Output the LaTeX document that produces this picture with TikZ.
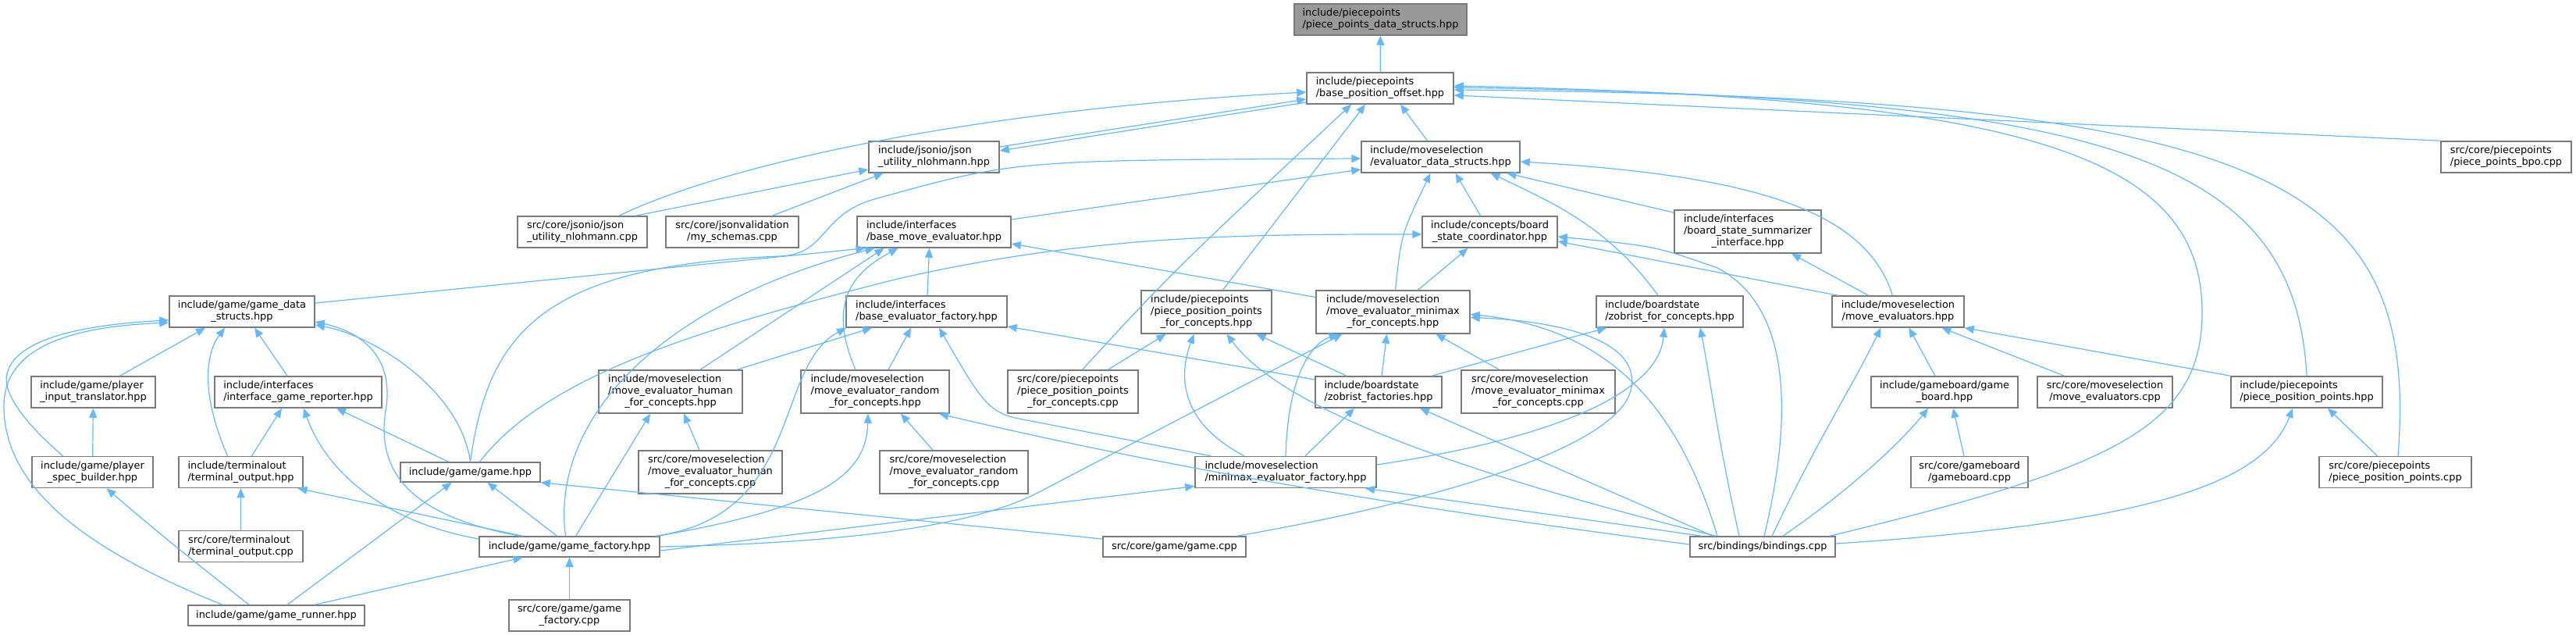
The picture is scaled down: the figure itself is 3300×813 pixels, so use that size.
\documentclass[tikz,border=0pt]{standalone}
\usepackage{fontspec}
\newfontfamily\dejavu{DejaVu Sans}
\usepackage{xcolor}
\usepackage{tikz}
\usetikzlibrary{arrows.meta}
\definecolor{EdgeBlue}{HTML}{63B8FF}
\definecolor{BoxGrey}{HTML}{7A7A7A}
\definecolor{RootGrey}{HTML}{999999}
\newcommand{\flab}[2]{\begin{tabular}{@{}l@{}}#1\\\multicolumn{1}{@{}c@{}}{#2}\end{tabular}}

\begin{document}
\begin{tikzpicture}[
  x=1pt,y=-1pt,
  srcfile/.style={draw=BoxGrey,line width=1.5pt,fill=white,inner sep=0pt,font=\dejavu\fontsize{12.9}{15}\selectfont},
  rootfile/.style={srcfile,fill=RootGrey},
  incl/.style={draw=EdgeBlue,line width=1.2pt,-{Triangle[length=12pt,width=10pt]}}
]
\useasboundingbox (0,0) rectangle (3300,813);

\node[rootfile,minimum width=221,minimum height=40] (root) at (1768.5,25) {\flab{include/piecepoints}{/piece\_points\_data\_structs.hpp}};
\node[srcfile,minimum width=188,minimum height=40] (bpo) at (1768,113) {\flab{include/piecepoints}{/base\_position\_offset.hpp}};
\node[srcfile,minimum width=167,minimum height=40] (json_hpp) at (1196.5,201) {\flab{include/jsonio/json}{\_utility\_nlohmann.hpp}};
\node[srcfile,minimum width=203,minimum height=40] (eds) at (1845.5,201) {\flab{include/moveselection}{/evaluator\_data\_structs.hpp}};
\node[srcfile,minimum width=167,minimum height=40] (bpo_cpp) at (3210.5,201) {\flab{src/core/piecepoints}{/piece\_points\_bpo.cpp}};
\node[srcfile,minimum width=166,minimum height=40] (json_cpp) at (746,297) {\flab{src/core/jsonio/json}{\_utility\_nlohmann.cpp}};
\node[srcfile,minimum width=170,minimum height=40] (schemas) at (938,297) {\flab{src/core/jsonvalidation}{/my\_schemas.cpp}};
\node[srcfile,minimum width=197,minimum height=40] (bme) at (1196.5,297) {\flab{include/interfaces}{/base\_move\_evaluator.hpp}};
\node[srcfile,minimum width=173,minimum height=40] (bsc) at (1908.5,297) {\flab{include/concepts/board}{\_state\_coordinator.hpp}};
\node[srcfile,minimum width=188,minimum height=55] (bssi) at (2239,296.5) {\flab{include/interfaces\\/board\_state\_summarizer}{\_interface.hpp}};
\node[srcfile,minimum width=186,minimum height=40] (gds) at (310,399) {\flab{include/game/game\_data}{\_structs.hpp}};
\node[srcfile,minimum width=206,minimum height=40] (bef) at (1187,399) {\flab{include/interfaces}{/base\_evaluator\_factory.hpp}};
\node[srcfile,minimum width=167,minimum height=55] (pppfc) at (1545.5,399.5) {\flab{include/piecepoints\\/piece\_position\_points}{\_for\_concepts.hpp}};
\node[srcfile,minimum width=197,minimum height=55] (memfc) at (1784.5,399.5) {\flab{include/moveselection\\/move\_evaluator\_minimax}{\_for\_concepts.hpp}};
\node[srcfile,minimum width=188,minimum height=40] (zfc) at (2139,399) {\flab{include/boardstate}{/zobrist\_for\_concepts.hpp}};
\node[srcfile,minimum width=169,minimum height=40] (mes) at (2431.5,399) {\flab{include/moveselection}{/move\_evaluators.hpp}};
\node[srcfile,minimum width=159,minimum height=40] (pit) at (119.5,502) {\flab{include/game/player}{\_input\_translator.hpp}};
\node[srcfile,minimum width=214,minimum height=40] (igr) at (382,502) {\flab{include/interfaces}{/interface\_game\_reporter.hpp}};
\node[srcfile,minimum width=184,minimum height=55] (mehfc) at (859,501.5) {\flab{include/moveselection\\/move\_evaluator\_human}{\_for\_concepts.hpp}};
\node[srcfile,minimum width=190,minimum height=55] (merfc) at (1121,501.5) {\flab{include/moveselection\\/move\_evaluator\_random}{\_for\_concepts.hpp}};
\node[srcfile,minimum width=167,minimum height=55] (ppp_cpp_fc) at (1374.5,501.5) {\flab{src/core/piecepoints\\/piece\_position\_points}{\_for\_concepts.cpp}};
\node[srcfile,minimum width=162,minimum height=40] (zf) at (1766,502) {\flab{include/boardstate}{/zobrist\_factories.hpp}};
\node[srcfile,minimum width=197,minimum height=55] (memfc_cpp) at (1970.5,501.5) {\flab{src/core/moveselection\\/move\_evaluator\_minimax}{\_for\_concepts.cpp}};
\node[srcfile,minimum width=188,minimum height=40] (gb_hpp) at (2491,502) {\flab{include/gameboard/game}{\_board.hpp}};
\node[srcfile,minimum width=173,minimum height=40] (mes_cpp) at (2696.5,502) {\flab{src/core/moveselection}{/move\_evaluators.cpp}};
\node[srcfile,minimum width=194,minimum height=40] (ppp_hpp) at (2955,502) {\flab{include/piecepoints}{/piece\_position\_points.hpp}};
\node[srcfile,minimum width=155,minimum height=40] (psb) at (118.5,604.5) {\flab{include/game/player}{\_spec\_builder.hpp}};
\node[srcfile,minimum width=159,minimum height=40] (to_hpp) at (308.5,604.5) {\flab{include/terminalout}{/terminal\_output.hpp}};
\node[srcfile,minimum width=179,minimum height=25] (game_hpp) at (602.5,604.5) {include/game/game.hpp};
\node[srcfile,minimum width=184,minimum height=55] (mehfc_cpp) at (910,604.5) {\flab{src/core/moveselection\\/move\_evaluator\_human}{\_for\_concepts.cpp}};
\node[srcfile,minimum width=190,minimum height=55] (merfc_cpp) at (1222,604.5) {\flab{src/core/moveselection\\/move\_evaluator\_random}{\_for\_concepts.cpp}};
\node[srcfile,minimum width=232,minimum height=40] (mef) at (1647,604.5) {\flab{include/moveselection}{/minimax\_evaluator\_factory.hpp}};
\node[srcfile,minimum width=150,minimum height=40] (gb_cpp) at (2523,604.5) {\flab{src/core/gameboard}{/gameboard.cpp}};
\node[srcfile,minimum width=195,minimum height=40] (ppp_cpp) at (3068.5,604.5) {\flab{src/core/piecepoints}{/piece\_position\_points.cpp}};
\node[srcfile,minimum width=159,minimum height=40] (to_cpp) at (308.5,699.5) {\flab{src/core/terminalout}{/terminal\_output.cpp}};
\node[srcfile,minimum width=231,minimum height=26] (gf) at (729.5,700) {include/game/game\_factory.hpp};
\node[srcfile,minimum width=183,minimum height=26] (game_cpp) at (1504.5,700) {src/core/game/game.cpp};
\node[srcfile,minimum width=186,minimum height=26] (bindings) at (2258,700) {src/bindings/bindings.cpp};
\node[srcfile,minimum width=226,minimum height=26] (gr) at (354,788) {include/game/game\_runner.hpp};
\node[srcfile,minimum width=155,minimum height=40] (gf_cpp) at (729.5,788) {\flab{src/core/game/game}{\_factory.cpp}};

\draw[incl] (bpo) -- (root);
\draw[incl] ([yshift=13pt]json_hpp.east) -- ([yshift=-14pt]bpo.west);
\draw[incl] ([yshift=-18pt]bpo.west) -- ([yshift=8pt]json_hpp.east);
\draw[incl] ([xshift=47pt]json_cpp.north) .. controls (930,210) and (1250,140) .. ([yshift=-5pt]bpo.west);
\draw[incl] ([xshift=68pt]json_cpp.north) -- ([yshift=-16pt]json_hpp.west);
\draw[incl] ([xshift=51pt]schemas.north) -- ([xshift=-65pt]json_hpp.south);
\draw[incl] ([xshift=-17pt]eds.north) -- ([xshift=26pt]bpo.south);
\draw[incl] ([xshift=21pt]pppfc.north) -- ([xshift=-19pt]bpo.south);
\draw[incl] ([xshift=12pt]ppp_cpp_fc.north) .. controls (1500,350) .. ([xshift=-37pt]bpo.south);
\draw[incl] (bpo_cpp.north west) -- ([yshift=-9pt]bpo.east);
\draw[incl] (ppp_hpp.north) .. controls (2940,200) and (2700,125) .. ([yshift=1pt]bpo.east);
\draw[incl] ([xshift=3.5pt]ppp_cpp.north) .. controls (3100,220) and (2900,125) .. ([yshift=-2pt]bpo.east);
\draw[incl] ([xshift=86pt]bindings.north) .. controls (2700,600) and (2821,550) .. (2821,400) .. controls (2821,200) and (2600,125) .. ([yshift=3pt]bpo.east);

\draw[incl] ([yshift=16pt]bme.east) -- ([yshift=-16pt]eds.west);
\draw[incl] (game_hpp.north) .. controls (625,430) and (690,340) .. (1000,328) .. controls (1060,325) and (1050,275) .. (1120,255) .. controls (1300,205) .. ([yshift=-2pt]eds.west);
\draw[incl] ([xshift=-12pt]bsc.north) -- ([xshift=19pt]eds.south);
\draw[incl] ([xshift=3pt]memfc.north) .. controls (1795,300) .. ([xshift=-13pt]eds.south);
\draw[incl] ([xshift=-15pt]zfc.north) .. controls (2060,290) and (1990,260) .. ([xshift=64pt]eds.south);
\draw[incl] ([yshift=-4pt]bssi.north west) -- ([xshift=85pt]eds.south);
\draw[incl] ([xshift=-7pt]mes.north) .. controls (2390,270) and (2250,225) .. ([yshift=-6pt]eds.east);

\draw[incl] ([yshift=11pt]gds.east) -- ([xshift=-88pt]bme.south);
\draw[incl] ([xshift=1pt]bef.north) -- ([xshift=-6pt]bme.south);
\draw[incl] ([xshift=38pt]mehfc.north) -- ([xshift=-64pt]bme.south);
\draw[incl] ([xshift=-25pt]merfc.north) .. controls (1060,390) and (1090,350) .. ([xshift=-46pt]bme.south);
\draw[incl] ([xshift=-5pt]gf.north) .. controls (705,540) and (840,390) .. ([xshift=-76pt]bme.south);
\draw[incl] ([yshift=19pt]memfc.west) -- ([yshift=-15pt]bme.east);

\draw[incl] ([xshift=12pt]game_hpp.north) .. controls (700,480) and (900,420) .. (1150,357) .. controls (1400,300) and (1600,300) .. ([yshift=-3pt]bsc.west);
\draw[incl] ([xshift=32pt]memfc.north) -- ([xshift=-28pt]bsc.south);
\draw[incl] ([xshift=-77pt]mes.north) -- ([yshift=-12pt]bsc.east);
\draw[incl] ([xshift=2pt]bindings.north) .. controls (2300,520) and (2290,390) .. (2200,343) .. controls (2120,315) .. ([yshift=-6pt]bsc.east);
\draw[incl] ([xshift=-38pt]mes.north) -- ([xshift=56pt]bssi.south);

\draw[incl] ([xshift=17pt]merfc.north) -- ([xshift=-20pt]bef.south);
\draw[incl] ([xshift=-96pt]mef.north) -- (1300,535) .. controls (1265,526) and (1255,510) .. ([xshift=16pt]bef.south);
\draw[incl] ([yshift=16pt]zf.west) -- ([yshift=-19pt]bef.east);
\draw[incl] ([xshift=110pt]gf.north) .. controls (1030,660) and (990,470) .. ([xshift=-103pt]bef.south);
\draw[incl] ([xshift=85pt]mehfc.north) -- ([xshift=-70pt]bef.south);

\draw[incl] ([xshift=113pt]gf.north) .. controls (1050,650) and (1110,610) .. ([xshift=-9pt]merfc.south);
\draw[incl] ([xshift=-27pt]merfc_cpp.north) -- ([xshift=33pt]merfc.south);
\draw[incl] ([yshift=3pt]bindings.west) .. controls (1800,650) and (1500,600) .. ([xshift=82pt]merfc.south);
\draw[incl] ([xshift=8pt]gf.north) -- ([xshift=-26pt]mehfc.south);
\draw[incl] ([xshift=-14pt]mehfc_cpp.north) -- ([xshift=17pt]mehfc.south);

\draw[incl] ([xshift=45pt]ppp_cpp_fc.north) -- ([xshift=-52pt]pppfc.south);
\draw[incl] ([xshift=-53pt]mef.north) .. controls (1510,540) and (1510,480) .. ([xshift=-16pt]pppfc.south);
\draw[incl] ([xshift=-60pt]bindings.north) .. controls (1850,600) and (1640,520) .. ([xshift=26pt]pppfc.south);
\draw[incl] ([xshift=-41pt]zf.north) -- ([xshift=64pt]pppfc.south);

\draw[incl] (mef.north) .. controls (1650,480) and (1680,440) .. ([xshift=-70pt]memfc.south);
\draw[incl] (gf.east) .. controls (1100,695) and (1253,671) .. (1331,630) -- ([xshift=-65pt]memfc.south);
\draw[incl] ([xshift=4pt]zf.north) -- ([xshift=-8pt]memfc.south);
\draw[incl] ([xshift=-50pt]memfc_cpp.north) -- ([xshift=55pt]memfc.south);
\draw[incl] ([xshift=80pt]game_cpp.north) .. controls (1850,640) and (2080,570) .. (2090,495) .. controls (2100,430) and (1980,410) .. ([yshift=-7pt]memfc.east);
\draw[incl] ([xshift=-58pt]bindings.north) .. controls (2150,520) and (2060,420) .. ([yshift=-3pt]memfc.east);

\draw[incl] ([xshift=68pt]zf.north) -- ([xshift=-81pt]zfc.south);
\draw[incl] ([yshift=9.5pt]mef.east) .. controls (2000,560) and (2125,500) .. ([xshift=-7pt]zfc.south);
\draw[incl] ([xshift=-30pt]bindings.north) .. controls (2200,560) and (2190,480) .. ([xshift=39pt]zfc.south);

\draw[incl] ([xshift=-12pt]gb_hpp.north) -- ([xshift=14pt]mes.south);
\draw[incl] ([xshift=-52pt]mes_cpp.north) -- ([xshift=56pt]mes.south);
\draw[incl] (ppp_hpp.north west) -- (mes.south east);
\draw[incl] ([xshift=12pt]bindings.north) .. controls (2330,560) and (2370,500) .. ([xshift=-22pt]mes.south);
\draw[incl] ([xshift=26pt]bindings.north) .. controls (2380,620) and (2440,560) .. ([xshift=-21pt]gb_hpp.south);
\draw[incl] ([xshift=-7pt]gb_cpp.north) -- ([xshift=11pt]gb_hpp.south);
\draw[incl] ([xshift=-23pt]ppp_cpp.north) -- ([xshift=27pt]ppp_hpp.south);
\draw[incl] ([yshift=4pt]bindings.east) .. controls (2750,670) and (2900,620) .. ([xshift=-18pt]ppp_hpp.south);

\draw[incl] ([xshift=25pt]mef.north) -- ([xshift=-31pt]zf.south);
\draw[incl] ([xshift=-64pt]bindings.north) -- ([xshift=53pt]zf.south);
\draw[incl] ([yshift=-5pt]gf.east) -- ([yshift=-18pt]mef.west);
\draw[incl] ([xshift=-78pt]bindings.north) -- ([xshift=102pt]mef.south);

\draw[incl] ([xshift=-16pt]gf.north) -- ([xshift=22pt]game_hpp.south);
\draw[incl] ([xshift=14pt]gr.north) -- ([xshift=-24pt]game_hpp.south);
\draw[incl] ([yshift=10pt]game_cpp.west) -- (game_hpp.south east);

\draw[incl] ([xshift=34pt]pit.north) -- ([xshift=-47pt]gds.south);
\draw[incl] ([xshift=-17pt]to_hpp.north) .. controls (255,500) and (265,450) .. ([xshift=-22pt]gds.south);
\draw[incl] ([xshift=-14pt]igr.north) -- ([xshift=16pt]gds.south);
\draw[incl] ([xshift=-38pt]psb.north) .. controls (30,540) and (0,500) .. (10,475) .. controls (25,430) and (120,415) .. ([yshift=-11pt]gds.west);
\draw[incl] ([xshift=-69pt]gr.north) .. controls (100,700) and (5,620) .. (5,520) .. controls (5,440) and (100,418) .. ([yshift=-14pt]gds.west);
\draw[incl] ([xshift=-63pt]gf.north) .. controls (520,660) and (480,600) .. (495,520) .. controls (505,440) and (440,420) .. ([yshift=-13pt]gds.east);
\draw[incl] (game_hpp.north) .. controls (590,500) and (480,430) .. ([yshift=-17pt]gds.east);

\draw[incl] ([xshift=14pt]to_hpp.north) -- ([xshift=-21pt]igr.south);
\draw[incl] ([yshift=10pt]gf.west) .. controls (500,670) and (420,610) .. ([xshift=7pt]igr.south);
\draw[incl] ([xshift=-28pt]game_hpp.north) -- ([xshift=49pt]igr.south);
\draw[incl] (psb) -- (pit);
\draw[incl] (to_cpp) -- (to_hpp);
\draw[incl] ([xshift=-60pt]gf.north) -- ([xshift=73pt]to_hpp.south);
\draw[incl] ([xshift=-35pt]gr.north) .. controls (250,720) and (200,680) .. ([xshift=18pt]psb.south);
\draw[incl] ([xshift=49pt]gr.north) -- ([xshift=-60pt]gf.south);
\draw[incl] (gf_cpp) -- (gf);
\end{tikzpicture}
\end{document}
